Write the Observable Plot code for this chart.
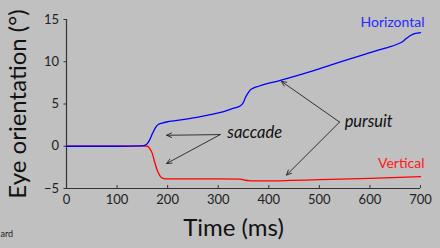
<!DOCTYPE html>
<html><head><meta charset="utf-8">
<script src="https://cdn.jsdelivr.net/npm/d3@7"></script>
<script src="https://cdn.jsdelivr.net/npm/@observablehq/plot@0.6"></script>
<style>
html,body{margin:0;padding:0;background:#c0c0c0;}
#chart svg{background:#c0c0c0;display:block;}
</style></head>
<body><div id="chart"></div>
<script>
const hTime = [0,50,100,150,158,163,170,176,182,189,200,212,240,265,290,305,325,344,350,354,359,364,370,380,423,489,522,548,588,630,655,665,673,680,690,700];
const hVal  = [0,0,0,0.05,0.2,0.6,1.5,2.2,2.6,2.75,2.9,3.0,3.25,3.5,3.8,4.0,4.4,4.8,5.2,5.8,6.3,6.7,6.9,7.1,7.8,8.95,9.6,10.1,10.85,11.6,12.1,12.4,12.8,13.1,13.35,13.45];
const vTime = [0,50,100,150,160,165,170,174,178,182,186,191,196,220,260,300,344,352,360,370,400,443,500,600,700];
const vVal  = [0,0,0,0.05,0,-0.3,-0.9,-1.8,-2.6,-3.2,-3.6,-3.8,-3.85,-3.85,-3.85,-3.85,-3.9,-4.0,-4.08,-4.1,-4.1,-4.05,-3.95,-3.8,-3.6];
const xTicks = [0,100,200,300,400,500,600,700];
const yTicks = [-5,0,5,10,15];
const seriesNames = ["Horizontal","Vertical"];
const seriesLabelPos = [{t:708,v:14.6},{t:708,v:-2.1}];
const annotations = [
  {text:"saccade", t:318, v:1.6, from:{t:304,v:1.38}, to:[{t:198,v:1.3},{t:198,v:-2.04}]},
  {text:"pursuit", t:550, v:2.9, from:{t:540,v:2.86}, to:[{t:425,v:7.68},{t:435,v:-3.41}]}
];

const H = hTime.map((t,i)=>({t, v:hVal[i]}));
const V = vTime.map((t,i)=>({t, v:vVal[i]}));
const arrows = annotations.flatMap(a => a.to.map(e => ({x1:a.from.t, y1:a.from.v, x2:e.t, y2:e.v})));
const labels = seriesNames.map((n,i)=>({name:n, ...seriesLabelPos[i], color: i===0 ? "#2a2aff" : "#ff1a1a"}));

const font = "Lato, 'Open Sans', sans-serif";
const plot = Plot.plot({
  width: 440, height: 248,
  marginLeft: 66, marginRight: 20, marginTop: 19, marginBottom: 60,
  style: {background:"#c0c0c0", fontFamily: font, fontSize: "13px", color:"#222", overflow:"visible"},
  x: {domain:[0,700], ticks: xTicks},
  y: {domain:[-5,15], ticks: yTicks},
  marks: [
    Plot.axisX({ticks: xTicks, tickSize: -3, tickPadding: 9, label: null, fontSize: 13, stroke:"#333"}),
    Plot.axisY({ticks: yTicks, tickSize: 2.5, tickPadding: 5, label: null, fontSize: 13, stroke:"#333"}),
    Plot.ruleY([-5], {stroke:"#333", strokeWidth:1.2}),
    Plot.ruleX([0], {y1:-5, y2:15, stroke:"#333", strokeWidth:1.2}),
    Plot.line(V, {x:"t", y:"v", stroke:"#ff0000", strokeWidth:1.3, curve:"monotone-x"}),
    Plot.line(H, {x:"t", y:"v", stroke:"#0000ff", strokeWidth:1.3, curve:"monotone-x"}),
    Plot.arrow(arrows, {x1:"x1", y1:"y1", x2:"x2", y2:"y2", stroke:"#222", strokeWidth:0.9, headLength:9, headAngle:50}),
    Plot.text(annotations, {x:"t", y:"v", text:"text", textAnchor:"start", fontSize:16.5, fontStyle:"italic", fill:"#111"}),
    Plot.text(labels, {x:"t", y:"v", text:"name", fill:"color", textAnchor:"end", fontSize:14}),
    Plot.text(["Eye orientation (°)"], {frameAnchor:"left", dx:-48, rotate:-90, textAnchor:"middle", fontSize:24, fill:"#111"}),
    Plot.text(["Time (ms)"], {frameAnchor:"bottom", dx:-10, dy:40, lineAnchor:"middle", fontSize:24, fill:"#111"}),
    Plot.text(["ard"], {frameAnchor:"bottom-left", dx:-66, dy:46, lineAnchor:"middle", textAnchor:"start", fontSize:9, fill:"#222"})
  ]
});
document.getElementById("chart").appendChild(plot);
</script></body></html>
